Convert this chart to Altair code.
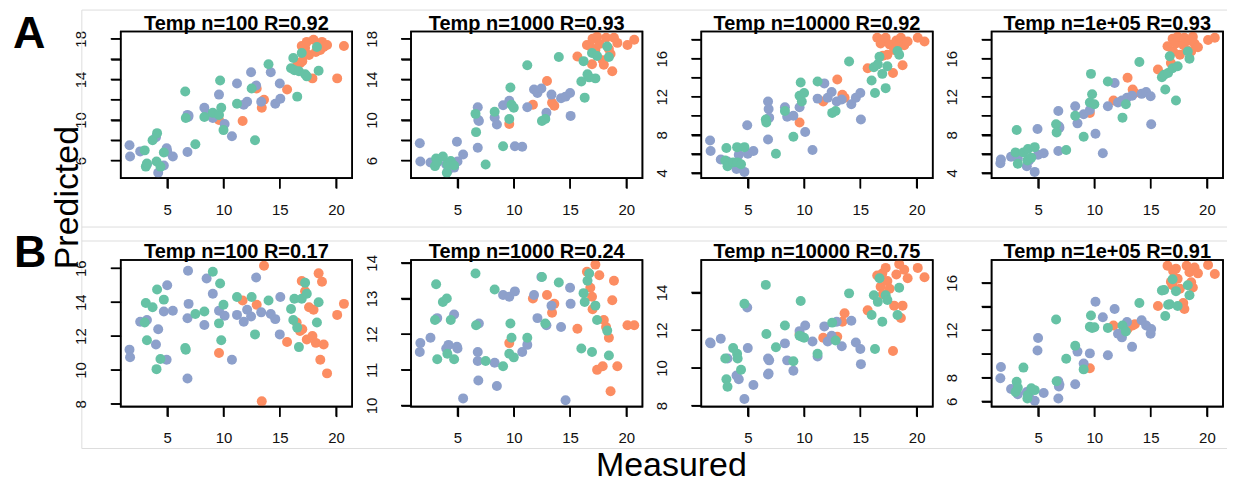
import json
import altair as alt
import pandas as pd

FONT = "Liberation Sans"

# ---- shared measured values (same samples in every panel) ----
MEASURED_BLUE = [1.65, 1.7, 2.6, 3.2, 4.0, 4.2, 4.7, 4.95, 5.0, 5.5, 6.8, 6.8, 6.85, 6.9, 8.3,
                 8.5, 9.05, 9.6, 10.1, 10.75, 11.2, 11.8, 12.1, 12.45, 12.9, 13.35, 14.2, 14.6, 15.0, 15.05]
MEASURED_GREEN = [3.0, 3.1, 3.2, 3.7, 4.05, 4.1, 4.4, 4.7, 6.6, 6.65, 7.5, 8.3, 9.05, 9.6, 9.7, 9.8,
                  10.0, 11.2, 12.5, 12.8, 14.0, 16.0, 16.2, 16.3, 16.55, 16.7, 16.95, 17.25, 17.4, 18.3, 18.45]
MEASURED_ORANGE = [9.6, 11.7, 12.95, 13.4, 13.6, 15.65, 16.5, 16.8, 16.95, 17.0, 17.25, 17.4, 17.6,
                   17.9, 18.0, 18.2, 18.45, 18.6, 18.75, 18.9, 19.2, 20.1, 20.7]

# ---- predicted values, per panel and group ----
A1_BLUE = [7.5, 6.4, 6.9, 5.6, 8.3, 4.8, 5.5, 7.2, 6.9, 6.4, 6.85, 10.5, 10.3, 10.4, 11.2, 10.6, 10.2,
           12.5, 9.6, 8.4, 13.6, 11.5, 11.8, 14.7, 13.4, 11.8, 14.7, 11.6, 13.6, 12.1]
A1_GREEN = [7.0, 5.4, 5.7, 8.0, 5.9, 8.7, 5.4, 6.8, 12.8, 10.2, 7.6, 10.3, 10.7, 10.5, 13.9, 11.2, 9.0,
            11.6, 13.1, 8.0, 15.5, 15.1, 16.1, 14.9, 12.3, 14.8, 16.6, 14.5, 14.3, 17.2, 14.85]
A1_ORANGE = [10.0, 9.9, 13.1, 11.2, 12.0, 13.0, 15.3, 15.6, 17.3, 15.8, 17.1, 17.7, 16.4, 14.1, 17.9,
             16.7, 17.5, 16.9, 17.7, 17.2, 17.4, 14.1, 17.3]

A2_BLUE = [7.7, 5.9, 5.8, 5.8, 5.6, 5.1, 5.3, 7.85, 5.9, 6.6, 7.25, 11.25, 10.0, 9.9, 10.25, 9.55, 11.45,
           11.9, 7.4, 7.35, 11.25, 13.0, 12.65, 13.1, 10.7, 12.5, 12.15, 12.3, 12.65, 10.4]
A2_GREEN = [5.45, 6.2, 5.9, 6.4, 4.8, 5.6, 5.95, 5.5, 10.6, 8.8, 5.6, 10.8, 7.4, 10.1, 13.2, 11.5, 11.2,
            15.4, 9.9, 10.1, 16.2, 13.8, 15.8, 12.2, 14.5, 14.2, 16.6, 14.1, 16.3, 17.25, 16.2]
A2_ORANGE = [9.6, 11.5, 13.85, 11.7, 11.4, 16.25, 17.4, 17.25, 15.5, 18.0, 16.9, 18.2, 17.5, 15.9, 15.45,
             18.1, 17.0, 16.5, 14.8, 18.1, 17.6, 17.4, 17.9]

A3_BLUE = [7.4, 6.3, 5.4, 5.2, 4.4, 5.9, 4.1, 9.0, 6.0, 6.3, 7.5, 11.5, 10.7, 9.8, 10.9, 9.9, 10.0, 10.9,
           8.3, 6.4, 11.8, 13.4, 11.9, 12.5, 11.5, 11.7, 11.2, 11.9, 12.4, 9.6]
A3_GREEN = [5.3, 6.6, 4.7, 5.1, 6.7, 5.1, 4.9, 6.7, 9.6, 9.3, 6.0, 10.5, 7.8, 12.1, 13.5, 11.5, 12.4, 13.6,
            10.3, 10.5, 15.7, 13.7, 15.1, 12.4, 15.4, 16.2, 14.4, 12.9, 15.2, 16.8, 16.4]
A3_ORANGE = [9.3, 11.5, 13.8, 12.2, 11.9, 15.0, 18.2, 17.6, 18.0, 16.3, 18.2, 16.4, 17.5, 14.5, 16.9, 17.9,
             17.5, 18.2, 15.3, 17.4, 17.8, 18.2, 17.8]

A4_BLUE = [5.0, 5.4, 5.7, 5.5, 4.7, 5.3, 4.1, 8.6, 5.9, 6.05, 6.3, 10.5, 8.9, 8.75, 11.0, 9.2, 10.15, 10.6,
           8.1, 6.05, 11.0, 13.45, 11.4, 11.6, 11.9, 12.1, 12.3, 12.5, 12.05, 9.1]
A4_GREEN = [6.15, 8.5, 4.95, 6.15, 5.3, 6.5, 5.6, 6.7, 9.1, 8.25, 6.4, 10.0, 7.8, 11.4, 14.4, 12.25, 11.2,
            13.6, 9.8, 11.2, 15.65, 14.05, 14.3, 12.75, 14.5, 16.25, 15.0, 11.6, 15.2, 16.75, 16.0]
A4_ORANGE = [10.3, 11.6, 14.0, 12.75, 12.4, 14.85, 17.3, 15.55, 18.1, 16.75, 17.6, 18.3, 16.4, 17.45, 18.2,
             16.9, 17.9, 16.75, 18.3, 17.6, 17.2, 17.95, 18.2]

B1_BLUE = [11.2, 10.75, 12.85, 12.95, 11.5, 12.4, 13.45, 10.6, 15.0, 13.5, 9.5, 13.05, 15.85, 13.9, 12.65,
           15.4, 14.5, 13.5, 13.2, 10.6, 13.25, 12.85, 13.55, 13.15, 15.45, 13.4, 13.3, 13.0, 12.1, 14.3]
B1_GREEN = [12.8, 13.95, 11.75, 13.7, 10.05, 14.75, 10.65, 14.15, 11.3, 11.2, 13.3, 13.45, 15.8, 12.75, 15.1,
            11.75, 13.85, 14.3, 14.3, 12.1, 14.1, 13.6, 12.95, 14.2, 12.5, 11.35, 14.2, 15.15, 14.5, 12.8, 14.0]
B1_ORANGE = [11.0, 14.1, 13.85, 8.15, 16.15, 11.65, 12.8, 12.3, 15.25, 12.4, 14.65, 11.8, 13.7, 12.0, 13.55,
             11.6, 15.7, 10.6, 15.2, 11.5, 9.8, 13.25, 13.9]

B2_BLUE = [11.5, 11.75, 11.9, 12.45, 11.6, 11.7, 12.55, 11.65, 11.6, 10.2, 11.5, 11.25, 10.7, 12.3, 11.2,
           10.55, 13.1, 13.05, 13.2, 11.5, 11.7, 13.1, 12.45, 13.6, 12.25, 12.8, 12.2, 10.15, 13.3, 12.85]
B2_GREEN = [12.4, 13.4, 11.3, 12.9, 13.0, 11.45, 12.4, 11.3, 13.7, 12.25, 11.25, 13.25, 11.1, 11.45, 12.3,
            11.9, 11.35, 11.9, 13.6, 12.3, 13.45, 11.6, 13.15, 12.9, 13.5, 13.7, 11.5, 12.8, 12.4, 12.1, 11.4]
B2_ORANGE = [11.75, 13.0, 13.1, 12.6, 12.85, 12.15, 13.75, 13.3, 13.05, 12.7, 13.95, 11.0, 13.65, 11.1, 12.4,
             12.2, 11.9, 10.4, 12.95, 13.5, 11.1, 12.25, 12.25]

B3_BLUE = [11.35, 11.3, 11.55, 10.5, 9.6, 9.4, 8.35, 13.2, 11.05, 9.1, 9.65, 10.5, 9.7, 10.4, 11.3, 10.4,
           9.85, 11.95, 12.25, 11.4, 10.6, 12.2, 11.4, 11.7, 12.45, 11.15, 12.5, 11.35, 11.0, 10.2]
B3_GREEN = [10.5, 9.4, 9.0, 11.05, 10.75, 10.5, 9.9, 13.4, 14.4, 11.8, 11.1, 12.25, 10.35, 11.7, 13.55, 11.65,
            11.6, 10.75, 12.4, 11.45, 13.95, 12.8, 13.85, 11.0, 13.5, 14.75, 12.45, 13.85, 13.6, 12.8, 14.25]
B3_ORANGE = [11.8, 11.6, 11.65, 12.45, 12.9, 13.05, 14.9, 14.3, 15.0, 13.9, 15.3, 14.6, 14.2, 10.9, 13.3,
             14.95, 15.5, 12.65, 13.3, 15.2, 14.75, 15.3, 14.8]

B4_BLUE = [7.95, 8.9, 7.05, 6.6, 6.8, 6.4, 6.05, 10.3, 11.35, 6.7, 6.25, 7.7, 7.25, 7.4, 7.45, 10.2, 9.2,
           10.05, 14.4, 13.1, 9.9, 13.8, 11.7, 11.4, 12.7, 10.6, 12.85, 12.4, 11.7, 12.1]
B4_GREEN = [6.8, 7.65, 7.15, 8.85, 6.25, 6.55, 7.1, 6.95, 12.9, 7.7, 9.6, 10.7, 8.7, 12.3, 13.25, 12.2, 12.25,
            12.2, 12.4, 11.9, 14.3, 15.35, 15.4, 13.2, 14.15, 14.2, 16.3, 15.3, 14.05, 15.8, 14.95]
B4_ORANGE = [8.8, 12.4, 12.1, 12.4, 12.5, 14.05, 17.45, 16.1, 15.8, 17.0, 17.2, 16.35, 15.5, 14.3, 13.8,
             17.45, 16.9, 16.05, 15.6, 17.3, 16.8, 17.5, 16.75]

TITLES = ["Temp n=100 R=0.92", "Temp n=1000 R=0.93", "Temp n=10000 R=0.92", "Temp n=1e+05 R=0.93",
          "Temp n=100 R=0.17", "Temp n=1000 R=0.24", "Temp n=10000 R=0.75", "Temp n=1e+05 R=0.91"]
PANEL_DATA = [(A1_BLUE, A1_GREEN, A1_ORANGE), (A2_BLUE, A2_GREEN, A2_ORANGE),
              (A3_BLUE, A3_GREEN, A3_ORANGE), (A4_BLUE, A4_GREEN, A4_ORANGE),
              (B1_BLUE, B1_GREEN, B1_ORANGE), (B2_BLUE, B2_GREEN, B2_ORANGE),
              (B3_BLUE, B3_GREEN, B3_ORANGE), (B4_BLUE, B4_GREEN, B4_ORANGE)]

X_DOMAIN = [0.87, 21.43]
X_TICKS = [5, 10, 15, 20]
Y_DOMAINS = [[4.26, 18.72], [4.26, 18.72], [3.44, 18.85], [3.44, 18.85],
             [7.84, 16.49], [9.97, 14.08], [7.95, 15.72], [5.56, 17.93]]
Y_TICKS = [[6, 8, 10, 12, 14, 16, 18], [6, 8, 10, 12, 14, 16, 18],
           [4, 6, 8, 10, 12, 14, 16, 18], [4, 6, 8, 10, 12, 14, 16, 18],
           [8, 10, 12, 14, 16], [10, 11, 12, 13, 14], [8, 10, 12, 14], [6, 8, 10, 12, 14, 16]]
Y_LABELS = [[6, 10, 14, 18], [6, 10, 14, 18], [4, 8, 12, 16], [4, 8, 12, 16],
            [8, 10, 12, 14, 16], [10, 11, 12, 13, 14], [8, 10, 12, 14], [6, 8, 12, 16]]

GROUPS = ["orange", "blue", "green"]
COLORS = ["#FC8D62", "#8DA0CB", "#66C2A5"]

W, H = 232, 147
TICK = 10
LINE_GRAY = "#dddddd"

one = pd.DataFrame({"k": [0]})


def panel_frame(blue, green, orange):
    rows = []
    for g, xs, ys in (("orange", MEASURED_ORANGE, orange),
                      ("blue", MEASURED_BLUE, blue),
                      ("green", MEASURED_GREEN, green)):
        for x, y in zip(xs, ys):
            rows.append({"Measured": x, "Predicted": y, "group": g})
    return pd.DataFrame(rows)


COMMON_AXIS = dict(title=None, grid=False, domain=False, ticks=True, tickSize=TICK, tickWidth=1.5,
                   tickColor="black", labelFontSize=15, labelFont=FONT, labelColor="#111111",
                   labelFlush=False, labelOverlap=False)


def x_enc():
    return alt.X("Measured:Q", scale=alt.Scale(domain=X_DOMAIN, nice=False, zero=False),
                 axis=alt.Axis(values=X_TICKS, labelPadding=14, **COMMON_AXIS))


def y_enc(i):
    expr = "indexof(%s, datum.value) >= 0 ? datum.label : ''" % json.dumps(Y_LABELS[i])
    return alt.Y("Predicted:Q", scale=alt.Scale(domain=Y_DOMAINS[i], nice=False, zero=False),
                 axis=alt.Axis(values=Y_TICKS[i], labelExpr=expr, labelAngle=270,
                               labelAlign="center", labelBaseline="alphabetic",
                               labelPadding=25, **COMMON_AXIS))


def make_points(i):
    df = panel_frame(*PANEL_DATA[i])
    return alt.Chart(df).mark_circle(size=100, opacity=1).encode(
        x=x_enc(), y=y_enc(i),
        color=alt.Color("group:N", scale=alt.Scale(domain=GROUPS, range=COLORS), legend=None),
    )


def tick_layers(i):
    ydf = pd.DataFrame({"Predicted": Y_TICKS[i]})
    xdf = pd.DataFrame({"Measured": X_TICKS})
    yt = alt.Chart(ydf).mark_rule(color="black", strokeWidth=1.5).encode(
        y=y_enc(i), x=alt.value(-TICK), x2=alt.value(0))
    xt = alt.Chart(xdf).mark_rule(color="black", strokeWidth=1.5).encode(
        x=x_enc(), y=alt.value(H), y2=alt.value(H + TICK))
    return [yt, xt]


def frame_layer():
    return alt.Chart(one).mark_rect(filled=False, stroke="black", strokeWidth=1.6).encode(
        x=alt.value(0), x2=alt.value(W), y=alt.value(0), y2=alt.value(H))


def title_mark(i):
    return alt.Chart(one).mark_text(
        text=TITLES[i], font=FONT, fontSize=20, fontWeight="bold", color="black",
        align="center", baseline="alphabetic",
    ).encode(x=alt.value(W / 2), y=alt.value(-2))


def hline(y):
    return alt.Chart(one).mark_rule(color=LINE_GRAY, strokeWidth=1).encode(
        x=alt.value(-39), x2=alt.value(1109), y=alt.value(y))


def label(text, x, y, size, weight="normal", align="left", angle=0):
    kw = dict(text=text, font=FONT, fontSize=size, fontWeight=weight, color="black",
              align=align, baseline="alphabetic")
    if angle:
        kw["angle"] = angle
    return alt.Chart(one).mark_text(**kw).encode(x=alt.value(x), y=alt.value(y))


overlay = [
    hline(-21.5), hline(196), hline(210), hline(418),
    alt.Chart(one).mark_rule(color=LINE_GRAY, strokeWidth=1).encode(
        x=alt.value(-39), y=alt.value(-21.5), y2=alt.value(418)),
    label("A", -108, 16.7, 45, "bold"),
    label("B", -107, 236, 45, "bold"),
    label("Predicted", -43, 166.5, 34, align="center", angle=270),
    label("Measured", 552, 446, 34, align="center"),
]

panels = []
for i in range(8):
    layers = [make_points(i)] + tick_layers(i) + [frame_layer(), title_mark(i)]
    if i == 0:
        layers = layers + overlay
    panels.append(alt.layer(*layers).properties(width=W, height=H))

chart = alt.concat(
    *panels, columns=4, spacing={"row": 82, "column": 59}, bounds="flush",
    padding={"left": 4, "top": 0, "right": 0, "bottom": 0},
).configure(font=FONT).configure_view(stroke="black", strokeWidth=1.6)

chart.save("out.html", embed_options={"renderer": "svg", "actions": False})
